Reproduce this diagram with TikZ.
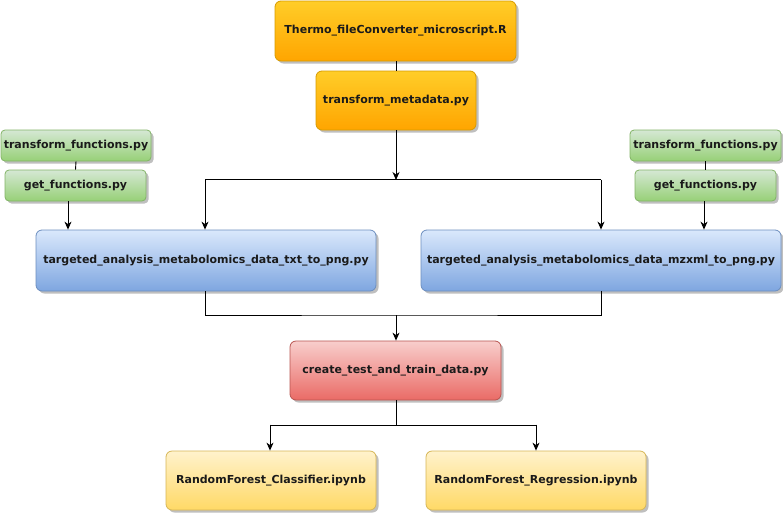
\documentclass[tikz,border=0pt]{standalone}
\usepackage{fontspec}
\setmainfont{DejaVu Sans}[BoldFont={DejaVu Sans Bold}]
\usetikzlibrary{shadows,arrows.meta,calc}
\definecolor{orT}{HTML}{FFCD28}\definecolor{orB}{HTML}{FFA500}\definecolor{orS}{HTML}{D79B00}
\definecolor{grT}{HTML}{D5E8D4}\definecolor{grB}{HTML}{97D077}\definecolor{grS}{HTML}{82B366}
\definecolor{blT}{HTML}{DAE8FC}\definecolor{blB}{HTML}{7EA6E0}\definecolor{blS}{HTML}{6C8EBF}
\definecolor{rdT}{HTML}{F8CECC}\definecolor{rdB}{HTML}{EA6B66}\definecolor{rdS}{HTML}{B85450}
\definecolor{ylT}{HTML}{FFF2CC}\definecolor{ylB}{HTML}{FFD966}\definecolor{ylS}{HTML}{D6B656}
\definecolor{txt}{HTML}{1A1A1A}
\tikzset{
  box/.style={rectangle, rounded corners=6pt, line width=0.8pt, inner sep=0pt,
    font=\bfseries\fontsize{11}{13}\selectfont, text=txt,
    drop shadow={shadow xshift=2.5pt, shadow yshift=-2.5pt, opacity=0.25, fill=black}},
  orbox/.style={box, draw=orS, top color=orT, bottom color=orB},
  grbox/.style={box, draw=grS, top color=grT, bottom color=grB, rounded corners=4pt},
  blbox/.style={box, draw=blS, top color=blT, bottom color=blB},
  rdbox/.style={box, draw=rdS, top color=rdT, bottom color=rdB},
  ylbox/.style={box, draw=ylS, top color=ylT, bottom color=ylB},
  conn/.style={line width=0.9pt, draw=black},
  arr/.style={conn, -{Stealth[length=8pt,width=7pt,inset=2.5pt]}}
}
\begin{document}
\begin{tikzpicture}[x=1pt,y=-1pt]
\useasboundingbox (0,0) rectangle (783,514);
\node[orbox, minimum width=241pt, minimum height=60pt] (thermo) at (395.5,31) {Thermo\_fileConverter\_microscript.R};
\node[orbox, minimum width=160pt, minimum height=59pt] (meta) at (396,100.5) {transform\_metadata.py};
\node[grbox, minimum width=150pt, minimum height=31pt] (gl1) at (76,145.5) {transform\_functions.py};
\node[grbox, minimum width=141pt, minimum height=31pt] (gl2) at (75.5,185.5) {get\_functions.py};
\node[grbox, minimum width=151pt, minimum height=31pt] (gr1) at (705.5,145.5) {transform\_functions.py};
\node[grbox, minimum width=141pt, minimum height=31pt] (gr2) at (705.5,185.5) {get\_functions.py};
\node[blbox, minimum width=340pt, minimum height=61pt] (bl) at (206,260.5) {targeted\_analysis\_metabolomics\_data\_txt\_to\_png.py};
\node[blbox, minimum width=360pt, minimum height=61pt] (br) at (601,260.5) {targeted\_analysis\_metabolomics\_data\_mzxml\_to\_png.py};
\node[rdbox, minimum width=211pt, minimum height=59pt] (red) at (395.5,370.5) {create\_test\_and\_train\_data.py};
\node[ylbox, minimum width=210pt, minimum height=59pt] (yl) at (271,480.5) {RandomForest\_Classifier.ipynb};
\node[ylbox, minimum width=220pt, minimum height=59pt] (yr) at (536,480.5) {RandomForest\_Regression.ipynb};
\coordinate (j1) at (396,180);
\coordinate (j2) at (396,315);
\coordinate (j3) at (396,425);
% connectors
\draw[conn] (thermo.south -| meta.north) -- (meta.north);
\draw[arr] (meta.south) -- (j1);
\draw[conn] ($(bl.north)+(-1,-50)$) -- ($(br.north)+(0,-50)$);
\draw[arr] ($(bl.north)+(-1,-50)$) -- ($(bl.north)+(-1,0)$);
\draw[arr] ($(br.north)+(0,-50)$) -- (br.north);
\draw[conn] (gl1.south) -- (gl2.north);
\draw[arr] ([xshift=-7.5pt]gl2.south) -- ([xshift=-7.5pt]gl2.south |- bl.north);
\draw[conn] (gr1.south) -- (gr2.north);
\draw[arr] ([xshift=-1.5pt]gr2.south) -- ([xshift=-1.5pt]gr2.south |- br.north);
\draw[conn] ($(bl.south)+(-1,0)$) |- (j2) -| (br.south);
\draw[arr] (j2) -- (j2 |- red.north);
\draw[conn] (red.south -| j3) -- (j3);
\draw[conn] (j3) -| ($(yl.north)+(-1,-26)$);
\draw[conn] (j3) -| ($(yr.north)+(0,-26)$);
\draw[arr] ($(yl.north)+(-1,-26)$) -- ($(yl.north)+(-1,0)$);
\draw[arr] ($(yr.north)+(0,-26)$) -- (yr.north);
\end{tikzpicture}
\end{document}
